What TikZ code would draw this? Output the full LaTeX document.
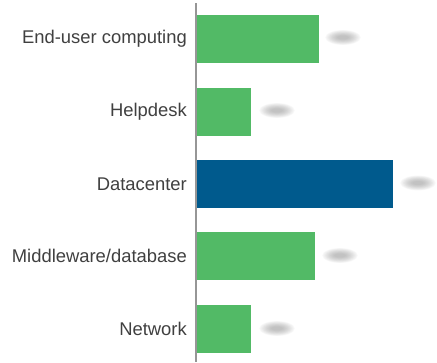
\documentclass[tikz,border=0pt]{standalone}
\usepackage{fontspec}
\setmainfont{Liberation Sans}
\definecolor{bargreen}{RGB}{82,186,102}
\definecolor{barblue}{RGB}{0,90,141}
\definecolor{labelgray}{RGB}{64,64,64}
\definecolor{axisgray}{RGB}{150,150,150}
\definecolor{smudge}{RGB}{130,130,130}
\tikzset{
  catlabel/.style={anchor=east, inner sep=0pt, text=labelgray, font=\fontsize{18.4}{20}\selectfont},
  greenbar/.style={fill=bargreen, draw=none},
  bluebar/.style={fill=barblue, draw=none},
  axisline/.style={draw=axisgray, line width=1.4pt},
}
% soft grey smudge standing for a blurred value label
\newcommand{\valblur}[2]{%
  \foreach \k in {1,...,10}{
    \fill[smudge, opacity=0.06] (#1,#2) ellipse ({19-1.3*\k} and {8-0.6*\k});
  }%
}
\begin{document}
\begin{tikzpicture}[x=1pt,y=-1pt]
\useasboundingbox (0,0) rectangle (437,362);
\fill[white] (0,0) rectangle (437,362);

% bars
\fill[greenbar] (197,15) rectangle (319,62.5);
\fill[greenbar] (197,88) rectangle (251,135.5);
\fill[bluebar]  (197,160) rectangle (393,207.5);
\fill[greenbar] (197,232) rectangle (315,279.5);
\fill[greenbar] (197,305) rectangle (251,352.5);

% axis
\coordinate (axtop) at (196,3);
\coordinate (axbot) at (196,362);
\draw[axisline] (axtop) -- (axbot);

% category labels
\node[catlabel] (l1) at (187,38.8) {End-user computing};
\node[catlabel] (l2) at (187,111.8) {Helpdesk};
\node[catlabel] (l3) at (187,184.3) {Datacenter};
\node[catlabel] (l4) at (187,256.3) {Middleware/database};
\node[catlabel] (l5) at (187,329.3) {Network};

% blurred value labels
\valblur{343}{37.5}
\valblur{277}{110.5}
\valblur{418}{183}
\valblur{340}{255.5}
\valblur{277}{328.5}
\end{tikzpicture}
\end{document}
